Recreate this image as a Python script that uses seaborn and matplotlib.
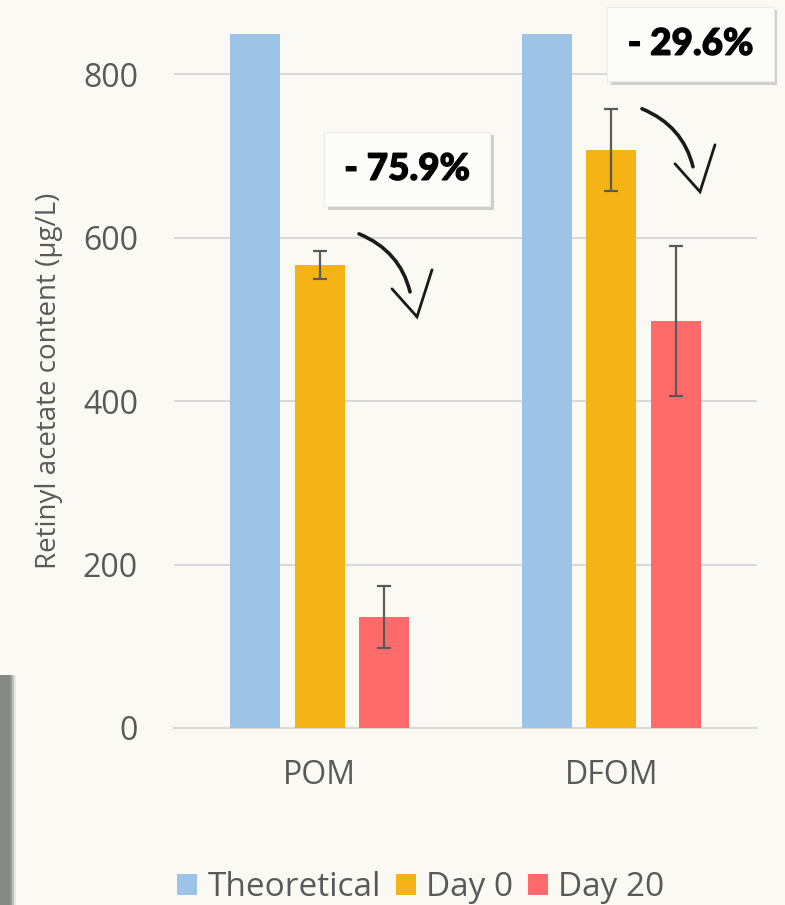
import matplotlib
matplotlib.use("Agg")
import matplotlib.pyplot as plt
import matplotlib.patheffects as pe
import matplotlib.transforms as mtransforms
from matplotlib.patches import PathPatch, Rectangle
from matplotlib.path import Path
import pandas as pd
import seaborn as sns

# ---- data ----
groups = ["POM", "DFOM"]
series = ["Theoretical", "Day 0", "Day 20"]
theoretical = [850, 850]
day0 = [566, 707]
day20 = [136, 498]
day0_err = [17, 50]
day20_err = [38, 92]
losses = ["- 75.9%", "- 29.6%"]
yticks = [0, 200, 400, 600, 800]
colors = ["#9dc3e6", "#f5b415", "#ff6b6b"]

bg = "#faf9f3"
txt = "#595959"
grid_c = "#d9d9d9"

df = pd.DataFrame({
    "group": groups * 3,
    "series": [s for s in series for _ in groups],
    "value": theoretical + day0 + day20,
})

sns.set_theme(style="white")
plt.rcParams["font.family"] = ["Open Sans", "DejaVu Sans"]

fig = plt.figure(figsize=(7.85, 9.05), dpi=100, facecolor=bg)
ax = fig.add_axes([0.2217, 0.1956, 0.7426, 0.7668])
ax.set_facecolor(bg)

sns.barplot(data=df, x="group", y="value", hue="series", order=groups,
            hue_order=series, palette=colors, saturation=1, width=0.664,
            gap=0.22, errorbar=None, ax=ax, zorder=3, linewidth=0)

# error bars on the measured series
for cont, errs in zip(ax.containers[1:], [day0_err, day20_err]):
    for bar, e in zip(cont.patches, errs):
        xc = bar.get_x() + bar.get_width() / 2
        ax.errorbar(xc, bar.get_height(), yerr=e, color=txt, lw=1.6,
                    capsize=4.7, capthick=1.6, zorder=4)

ax.set_xlim(-0.5, 1.5)
ax.set_ylim(0, 849)
ax.set_yticks(yticks)
ax.yaxis.grid(True, color=grid_c, lw=1.5, zorder=0)
ax.set_axisbelow(True)
for s in ["top", "right", "left"]:
    ax.spines[s].set_visible(False)
ax.spines["bottom"].set_color(grid_c)
ax.spines["bottom"].set_linewidth(1.5)
ax.tick_params(axis="y", length=0, pad=26, labelsize=23, labelcolor=txt)
ax.tick_params(axis="x", length=0, pad=22, labelsize=23, labelcolor=txt)
ax.set_xlabel("")
ax.set_ylabel("Retinyl acetate content (µg/L)", fontsize=20, color=txt,
              labelpad=14)

# legend below the plot
handles, labels = ax.get_legend_handles_labels()
ax.get_legend().remove()
fig.legend(handles, labels, loc="center", bbox_to_anchor=(0.536, 0.019),
           ncol=3, frameon=False, fontsize=24, labelcolor=txt,
           handlelength=0.6, handleheight=0.6, handletextpad=0.3,
           columnspacing=0.45, borderaxespad=0)

# percentage-loss callouts
boxes = [(0.30, 684), (1.272, 837)]
for label, (bx, by) in zip(losses, boxes):
    t = ax.text(bx, by, label, ha="center", va="center", fontsize=26.5,
                fontweight=900, family=["Lato", "DejaVu Sans"],
                color="black", zorder=6, clip_on=False,
                bbox=dict(boxstyle="square,pad=0.55", fc="#fcfcf8",
                          ec="#ececec", lw=0.8))
    t.set_path_effects([pe.withStroke(linewidth=0.9, foreground="black")])
    t.get_bbox_patch().set_path_effects([
        pe.SimplePatchShadow(offset=(2.5, -2.5), shadow_rgbFace="#9a9a9a",
                             alpha=0.45),
        pe.Normal()])

# hand-drawn style curved arrows, shape given in inches relative to the tip
curve = Path([(-0.58, 0.83), (-0.17, 0.66), (-0.07, 0.25)],
             [Path.MOVETO, Path.CURVE3, Path.CURVE3])
head = Path([(-0.25, 0.28), (0, 0), (0.15, 0.47)],
            [Path.MOVETO, Path.LINETO, Path.LINETO])
tips = [(0.3336, 503), (1.3045, 656)]
for tx, ty in tips:
    tr = fig.dpi_scale_trans + mtransforms.ScaledTranslation(tx, ty, ax.transData)
    ax.add_patch(PathPatch(curve, transform=tr, fc="none", ec="#1a1a1a",
                           lw=2.6, capstyle="round", zorder=6, clip_on=False))
    ax.add_patch(PathPatch(head, transform=tr, fc="none", ec="#1a1a1a",
                           lw=2.0, capstyle="round", joinstyle="miter",
                           zorder=6, clip_on=False))

# dark strip along the lower left edge
for i, a in enumerate([1.0, 0.7, 0.4, 0.15]):
    fig.patches.append(Rectangle((0, 0), (10 + 2 * i) / 785, 230 / 905,
                                 transform=fig.transFigure,
                                 fc="#868884", alpha=a if i else 1.0,
                                 ec="none", zorder=-1))

fig.savefig("out.png", dpi=100, facecolor=bg)
